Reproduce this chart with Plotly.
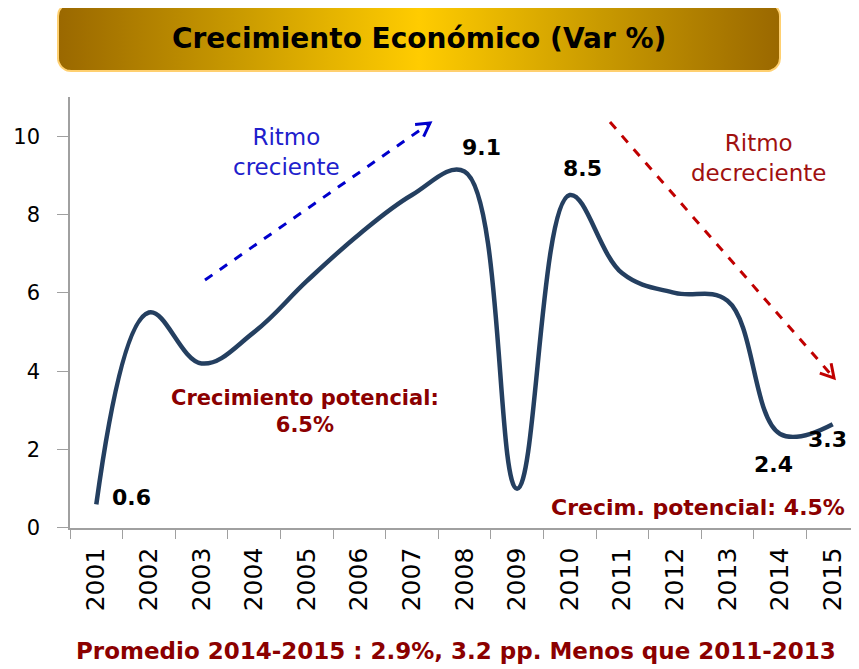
import math
import plotly.graph_objects as go

# ---- data ----
years = ["2001", "2002", "2003", "2004", "2005", "2006", "2007", "2008",
         "2009", "2010", "2011", "2012", "2013", "2014", "2015"]
growth = [0.6, 5.5, 4.2, 5.0, 6.3, 7.5, 8.5, 9.1, 1.0, 8.5, 6.5, 6.0, 5.8, 2.4, 2.65]
label_years = ["2001", "2008", "2010", "2014", "2015"]
label_texts = ["0.6", "9.1", "8.5", "2.4", "3.3"]
label_vals = [0.6, 9.1, 8.5, 2.4, 2.65]
label_shift = [(35, 7), (17, 24), (13, 27), (-7, -31), (-5, -15)]
y_ticks = [0, 2, 4, 6, 8, 10]

# Layout in picture pixels. The page has an 8px body margin; the photographed
# viewport is a bit taller than the picture, so vertical targets are scaled.
OFF = 8
PW, PH = 859, 669
VH = 681                      # effective viewport height
S = VH / PH
W, H = PW - 2 * OFF, VH - 2 * OFF

def px_x(p):  # picture x -> figure paper fraction
    return (p - OFF) / W

def px_y(p):  # picture y -> figure paper fraction (from bottom)
    return (VH - OFF - p * S) / H

fig = go.Figure()

# main line
fig.add_trace(go.Scatter(
    x=years, y=growth, mode="lines",
    line=dict(color="#243F60", width=4.5, shape="spline", smoothing=1.1),
    xaxis="x", yaxis="y", hoverinfo="skip", showlegend=False))

# title box (rounded, horizontal gold gradient)
def rounded_rect(x0, y0, x1, y1, r, n=10):
    xs, ys = [], []
    corners = [(x1 - r, y0 + r, -90, 0), (x1 - r, y1 - r, 0, 90),
               (x0 + r, y1 - r, 90, 180), (x0 + r, y0 + r, 180, 270)]
    for cx, cy, a0, a1 in corners:
        for i in range(n + 1):
            a = math.radians(a0 + (a1 - a0) * i / n)
            xs.append(cx + r * math.cos(a))
            ys.append(cy + r * math.sin(a))
    xs.append(xs[0]); ys.append(ys[0])
    return xs, ys

bx, by = rounded_rect(58, 3, 780, 71, 13)
fig.add_trace(go.Scatter(
    x=bx, y=by, mode="lines", line=dict(color="#FFD070", width=2),
    fill="toself",
    fillgradient=dict(type="horizontal", start=58, stop=780,
                      colorscale=[[0, "#9A6800"], [0.25, "#C99A00"],
                                  [0.5, "#FFCC00"], [0.75, "#C99A00"],
                                  [1, "#9A6800"]]),
    xaxis="x2", yaxis="y2", hoverinfo="skip", showlegend=False))

shapes = []
annotations = []

def arrow(x0, y0, x1, y1, color):
    shapes.append(dict(type="line", xref="x2", yref="y2", x0=x0, y0=y0, x1=x1, y1=y1,
                       line=dict(color=color, width=3, dash="dash")))
    ang = math.atan2(y1 - y0, x1 - x0)
    L = 15
    pts = []
    for d in (math.radians(150), math.radians(-150)):
        pts.append((x1 + L * math.cos(ang + d), y1 + L * math.sin(ang + d)))
    path = f"M {pts[0][0]:.1f},{pts[0][1]:.1f} L {x1},{y1} L {pts[1][0]:.1f},{pts[1][1]:.1f}"
    shapes.append(dict(type="path", xref="x2", yref="y2", path=path,
                       line=dict(color=color, width=3)))

arrow(205, 280, 430, 123, "#0000CC")
arrow(610, 122, 834, 378, "#C00000")

def ptext(x, y, text, size, color, bold=False):
    annotations.append(dict(xref="x2", yref="y2", x=x, y=y, text=(f"<b>{text}</b>" if bold else text),
                            showarrow=False, xanchor="center", yanchor="middle",
                            font=dict(family="DejaVu Sans", size=size, color=color)))

ptext(419, 38, "Crecimiento Económico (Var %)", 28, "#000000", bold=True)
ptext(286, 152, "Ritmo<br>creciente", 23, "#2020CC")
ptext(758, 158, "Ritmo<br>decreciente", 23, "#A01010")
ptext(305, 412, "Crecimiento potencial:<br>6.5%", 21, "#8B0000", bold=True)
ptext(698, 508, "Crecim. potencial: 4.5%", 22, "#8B0000", bold=True)
ptext(456, 651, "Promedio 2014-2015 : 2.9%, 3.2 pp. Menos que 2011-2013", 23, "#8B0000", bold=True)

for yr, t, v, (dx, dy) in zip(label_years, label_texts, label_vals, label_shift):
    annotations.append(dict(xref="x", yref="y", x=years.index(yr), y=v, text=f"<b>{t}</b>",
                            showarrow=False, xshift=dx, yshift=dy,
                            font=dict(family="DejaVu Sans", size=22, color="#000000")))

# category centre of 2001 at picture x 96, spacing 52.6 px -> right edge of figure
x_right = -0.5 + (PW - OFF - 70) / 52.6

fig.update_layout(
    width=W, height=H,
    margin=dict(l=0, r=0, t=0, b=0),
    paper_bgcolor="white", plot_bgcolor="rgba(0,0,0,0)",
    xaxis=dict(domain=[px_x(70), 1], type="category", range=[-0.5, x_right],
               showline=True, linecolor="#A0A0A0", linewidth=1.5,
               ticks="outside", tickson="boundaries", ticklen=9, tickcolor="#A0A0A0",
               tickangle=-90, ticklabelstandoff=8, showgrid=False, zeroline=False, anchor="y",
               tickfont=dict(family="DejaVu Sans", size=25, color="#000000")),
    yaxis=dict(domain=[px_y(528), px_y(97)], range=[0, 11],
               tickvals=y_ticks, showline=True, linecolor="#A0A0A0", linewidth=1.5,
               ticks="outside", ticklen=11, tickcolor="#A0A0A0", ticklabelstandoff=13,
               showgrid=False, zeroline=False, anchor="x",
               tickfont=dict(family="DejaVu Sans", size=21, color="#000000")),
    xaxis2=dict(domain=[0, 1], range=[OFF, PW - OFF], visible=False, anchor="y2", fixedrange=True),
    yaxis2=dict(domain=[0, 1], range=[(VH - OFF) / S, OFF / S], visible=False, anchor="x2",
                fixedrange=True),
    shapes=shapes, annotations=annotations,
)

fig.write_html("out.html")
